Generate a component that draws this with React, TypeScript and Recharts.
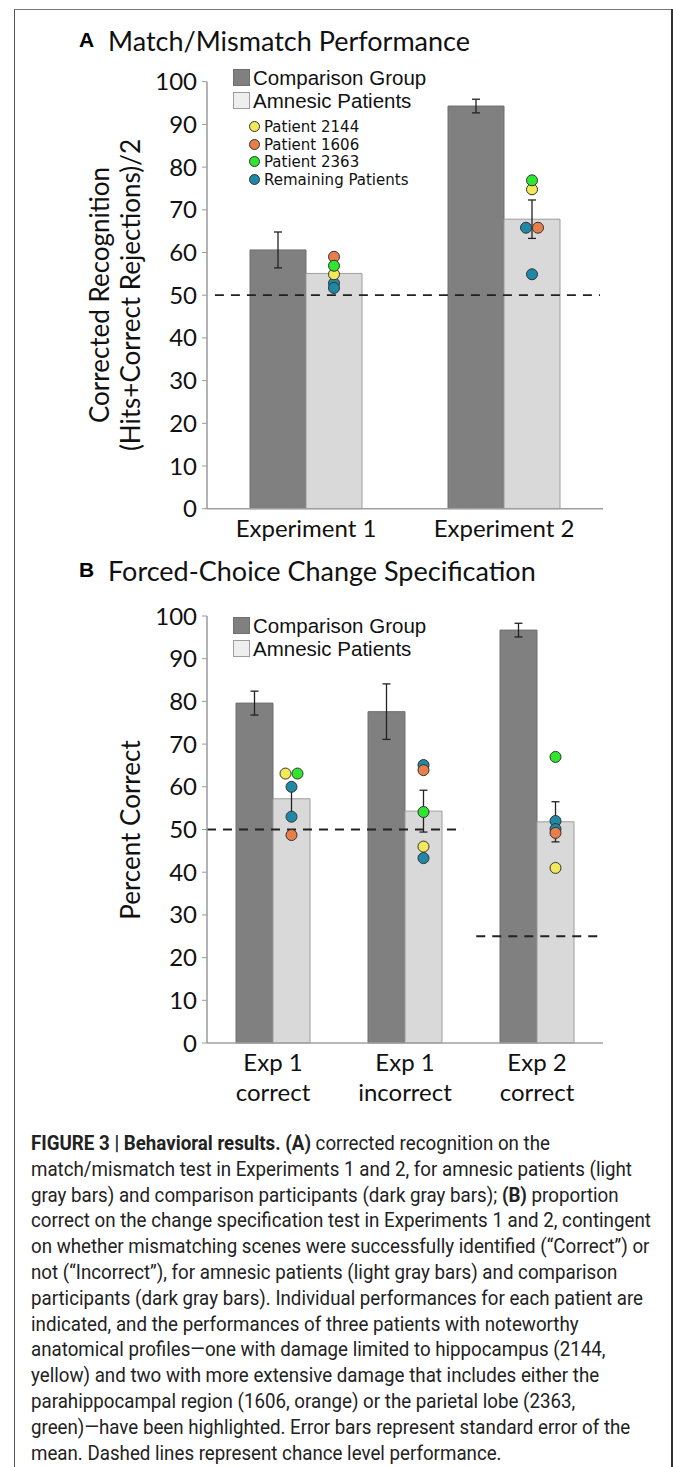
import React from 'react';
import { ComposedChart, Bar, XAxis, YAxis, ErrorBar, Scatter, ReferenceLine } from 'recharts';

// ---------- DATA ----------
const categoriesA = ['Experiment 1', 'Experiment 2'];
const comparisonA = [60.6, 94.3];
const comparisonErrA = [4.2, 1.6];
const amnesicA = [55.1, 67.8];
const amnesicErrA = [1.5, 4.5];
const remaining1A = [52.8, 65.8];
const remaining2A = [51.7, 54.9];
const patient2144A = [54.9, 74.8];
const patient1606A = [59.0, 65.8];
const patient2363A = [56.9, 76.9];
const chanceA = [50, 50];

const categoriesB = ['Exp 1\ncorrect', 'Exp 1\nincorrect', 'Exp 2\ncorrect'];
const comparisonB = [79.6, 77.6, 96.7];
const comparisonErrB = [2.8, 6.5, 1.6];
const amnesicB = [57.2, 54.3, 51.8];
const amnesicErrB = [3.5, 4.9, 4.7];
const remaining1B = [60.0, 65.1, 52.0];
const remaining2B = [53.0, 43.3, 50.1];
const patient2144B = [63.1, 46.0, 41.0];
const patient1606B = [48.7, 63.9, 49.2];
const patient2363B = [63.1, 54.1, 67.0];
const chanceB = [50, 50, 25];

const yTicks = [0, 10, 20, 30, 40, 50, 60, 70, 80, 90, 100];

// ---------- STYLE / LAYOUT ----------
const DARK = '#808080';
const LIGHT = '#d9d9d9';
const seriesStyle: Record<string, string> = {
  rem1: '#1f88a6',
  rem2: '#1f88a6',
  p2144: '#f1e85a',
  p1606: '#e87f4b',
  p2363: '#2fe62f',
};
const seriesOrder = ['rem1', 'rem2', 'p2144', 'p1606', 'p2363'];
const CHART_W = 673;
const PLOT_LEFT = 207;
const PLOT_RIGHT_MARGIN = 70;
const Y_AXIS_W = 60;
const PLOT_W = CHART_W - PLOT_LEFT - PLOT_RIGHT_MARGIN;

function buildData(cats: string[], comp: number[], compErr: number[], amn: number[], amnErr: number[],
  rem1: number[], rem2: number[], p2144: number[], p1606: number[], p2363: number[]) {
  return cats.map((c, i) => ({
    cat: c, idx: i,
    comp: comp[i], compErr: compErr[i], amn: amn[i], amnErr: amnErr[i],
    rem1: rem1[i], rem2: rem2[i], p2144: p2144[i], p1606: p1606[i], p2363: p2363[i],
  }));
}

const dataA = buildData(categoriesA, comparisonA, comparisonErrA, amnesicA, amnesicErrA,
  remaining1A, remaining2A, patient2144A, patient1606A, patient2363A);
const dataB = buildData(categoriesB, comparisonB, comparisonErrB, amnesicB, amnesicErrB,
  remaining1B, remaining2B, patient2144B, patient1606B, patient2363B);

// spread dots that have identical values side by side
function spreadOffsets(data: any[], spacing: number) {
  const res: Record<string, number[]> = {};
  seriesOrder.forEach((k) => (res[k] = data.map(() => 0)));
  data.forEach((row, i) => {
    const groups: Record<string, string[]> = {};
    seriesOrder.forEach((k) => {
      const key = String(row[k]);
      (groups[key] = groups[key] || []).push(k);
    });
    Object.values(groups).forEach((g) => {
      g.forEach((k, j) => {
        res[k][i] = (j - (g.length - 1) / 2) * spacing;
      });
    });
  });
  return res;
}

function makeDot(key: string, offsets: Record<string, number[]>, shift: number) {
  return (props: any) => {
    const { cx, cy, payload } = props;
    if (cx == null || cy == null) return <g />;
    const dx = shift + offsets[key][payload.idx];
    return <circle cx={cx + dx} cy={cy} r={5.5} fill={seriesStyle[key]} stroke="#333" strokeWidth={1} />;
  };
}

function chanceGroups(values: number[], cats: string[]) {
  const groups: { v: number; from: number; to: number }[] = [];
  values.forEach((v, i) => {
    const last = groups[groups.length - 1];
    if (last && last.v === v) last.to = i;
    else groups.push({ v, from: i, to: i });
  });
  return groups.map((g) => ({ v: g.v, c1: cats[g.from], c2: cats[g.to] }));
}

const FONT = "Lato, 'Open Sans', sans-serif";

const MultiTick = (props: any) => {
  const { x, y, payload } = props;
  const lines = String(payload.value).split('\n');
  return (
    <text x={x} y={y} textAnchor="middle" fontFamily={FONT} fontSize={24} fill="#111">
      {lines.map((l, i) => (
        <tspan key={i} x={x} dy={i === 0 ? 20 : 30}>{l}</tspan>
      ))}
    </text>
  );
};

function Panel({ data, cats, barSize, chance, ext, height, top, bottom, xHeight }: any) {
  const offsets = spreadOffsets(data, 12);
  const groups = chanceGroups(chance, cats);
  const step = PLOT_W / data.length;
  return (
    <ComposedChart width={CHART_W} height={height} data={data}
      margin={{ top, right: PLOT_RIGHT_MARGIN, bottom, left: PLOT_LEFT - Y_AXIS_W }} barGap={0} barSize={barSize}>
      <XAxis dataKey="cat" interval={0} tickLine={false} axisLine={{ stroke: '#a0a0a0', strokeWidth: 1.5 }}
        height={xHeight} tick={<MultiTick />} />
      <YAxis domain={[0, 100]} ticks={yTicks} interval={0} width={Y_AXIS_W} tickSize={5} tickMargin={5}
        axisLine={{ stroke: '#9a9a9a', strokeWidth: 1.5 }} tickLine={{ stroke: '#9a9a9a' }}
        tick={{ fontFamily: FONT, fontSize: 24, fill: '#111' }} />
      <Bar dataKey="comp" fill={DARK} stroke="#6f6f6f" strokeWidth={1} isAnimationActive={false}>
        <ErrorBar dataKey="compErr" width={4} stroke="#222" strokeWidth={1.3} direction="y" />
      </Bar>
      <Bar dataKey="amn" fill={LIGHT} stroke="#9c9c9c" strokeWidth={1} isAnimationActive={false}>
        <ErrorBar dataKey="amnErr" width={4} stroke="#222" strokeWidth={1.3} direction="y" />
      </Bar>
      {groups.map((g: any, i: number) => (
        <ReferenceLine key={i} segment={[{ x: g.c1, y: g.v }, { x: g.c2, y: g.v }]} ifOverflow="visible"
          shape={(p: any) => (
            <line x1={p.x1 - ext[i][0] * step} y1={p.y1} x2={p.x2 + ext[i][1] * step} y2={p.y2}
              stroke="#222" strokeWidth={1.8} strokeDasharray="9 7" />
          )} />
      ))}
      {seriesOrder.map((k) => (
        <Scatter key={k} dataKey={k} isAnimationActive={false} shape={makeDot(k, offsets, barSize / 2)} />
      ))}
    </ComposedChart>
  );
}

const legendSq = (fill: string, stroke: string) => (
  <span style={{ display: 'inline-block', width: 15, height: 15, background: fill, border: `1px solid ${stroke}`, marginRight: 3, verticalAlign: -1 }} />
);

const BarLegend = ({ top }: { top: number }) => (
  <div style={{ position: 'absolute', left: 233, top, fontFamily: "'Liberation Sans', Arial, sans-serif", fontSize: 20.5, lineHeight: '23px', color: '#111' }}>
    <div>{legendSq(DARK, '#6f6f6f')}Comparison Group</div>
    <div>{legendSq('#eeeeee', '#9c9c9c')}Amnesic Patients</div>
  </div>
);

const dotLegend = [
  { label: 'Patient 2144', key: 'p2144' },
  { label: 'Patient 1606', key: 'p1606' },
  { label: 'Patient 2363', key: 'p2363' },
  { label: 'Remaining Patients', key: 'rem1' },
];

const captionLines: { b?: string; t: string; b2?: string; t2?: string }[] = [
  { b: 'FIGURE 3 | Behavioral results. (A)', t: ' corrected recognition on the' },
  { t: 'match/mismatch test in Experiments 1 and 2, for amnesic patients (light' },
  { t: 'gray bars) and comparison participants (dark gray bars); ', b2: '(B)', t2: ' proportion' },
  { t: 'correct on the change specification test in Experiments 1 and 2, contingent' },
  { t: 'on whether mismatching scenes were successfully identified (\u201cCorrect\u201d) or' },
  { t: 'not (\u201cIncorrect\u201d), for amnesic patients (light gray bars) and comparison' },
  { t: 'participants (dark gray bars). Individual performances for each patient are' },
  { t: 'indicated, and the performances of three patients with noteworthy' },
  { t: 'anatomical profiles\u2014one with damage limited to hippocampus (2144,' },
  { t: 'yellow) and two with more extensive damage that includes either the' },
  { t: 'parahippocampal region (1606, orange) or the parietal lobe (2363,' },
  { t: 'green)\u2014have been highlighted. Error bars represent standard error of the' },
  { t: 'mean. Dashed lines represent chance level performance.' },
];

export default function App() {
  return (
    <div style={{ position: 'absolute', left: 0, top: 0, width: 673, height: 1467, background: '#fff', overflow: 'hidden' }}>
      <div style={{ position: 'absolute', left: 14, top: 9, width: 680, height: 1500, borderLeft: '1.5px solid #555', borderTop: '1.5px solid #777', boxSizing: 'border-box' }} />
      <div style={{ position: 'absolute', right: 0, top: 9, width: 2, height: 1500, background: '#333' }} />

      {/* Panel A */}
      <div style={{ position: 'absolute', left: 0, top: 0 }}>
        <Panel data={dataA} cats={categoriesA} barSize={56} chance={chanceA} ext={[[0.46, 0.485]]} height={560}
          top={81.7} bottom={11.3} xHeight={40} />
      </div>
      <div style={{ position: 'absolute', left: 79, top: 28, fontFamily: "'Liberation Sans', Arial, sans-serif", fontWeight: 700, fontSize: 21 }}>A</div>
      <div style={{ position: 'absolute', left: 108, top: 24, fontFamily: FONT, fontSize: 27, color: '#111' }}>Match/Mismatch Performance</div>
      <div style={{ position: 'absolute', left: 115, top: 295, width: 0, height: 0 }}>
        <div style={{ position: 'absolute', transform: 'translate(-50%,-50%) rotate(-90deg)', whiteSpace: 'nowrap', textAlign: 'center', fontFamily: FONT, fontSize: 26, lineHeight: '31px', color: '#111' }}>
          <div>Corrected Recognition</div>
          <div>(Hits+Correct Rejections)/2</div>
        </div>
      </div>
      <BarLegend top={66} />
      <div style={{ position: 'absolute', left: 249, top: 119, fontFamily: "'DejaVu Sans', sans-serif", fontSize: 15, lineHeight: '17.5px', color: '#111' }}>
        {dotLegend.map((d) => (
          <div key={d.key} style={{ whiteSpace: 'nowrap', height: 17.5 }}>
            <span style={{ display: 'inline-block', width: 9, height: 9, borderRadius: '50%', background: seriesStyle[d.key], border: '1px solid #333', marginRight: 4, verticalAlign: 0 }} />
            {d.label}
          </div>
        ))}
      </div>

      {/* Panel B */}
      <div style={{ position: 'absolute', left: 0, top: 560 }}>
        <Panel data={dataB} cats={categoriesB} barSize={37} chance={chanceB} ext={[[0.5, 0.44], [0.46, 0.48]]} height={560}
          top={56} bottom={17} xHeight={60} />
      </div>
      <div style={{ position: 'absolute', left: 79, top: 558, fontFamily: "'Liberation Sans', Arial, sans-serif", fontWeight: 700, fontSize: 21 }}>B</div>
      <div style={{ position: 'absolute', left: 108, top: 554, fontFamily: FONT, fontSize: 27, color: '#111' }}>Forced-Choice Change Specification</div>
      <div style={{ position: 'absolute', left: 130, top: 830, width: 0, height: 0 }}>
        <div style={{ position: 'absolute', transform: 'translate(-50%,-50%) rotate(-90deg)', whiteSpace: 'nowrap', fontFamily: FONT, fontSize: 26, color: '#111' }}>
          Percent Correct
        </div>
      </div>
      <BarLegend top={614} />

      {/* Caption */}
      <div style={{ position: 'absolute', left: 31, top: 1131, fontFamily: "'Liberation Sans Narrow', 'Roboto', sans-serif", fontSize: 19.5, lineHeight: '25.8px', color: '#222', whiteSpace: 'nowrap', transform: 'scaleX(0.96)', transformOrigin: 'left top' }}>
        {captionLines.map((l, i) => (
          <div key={i}>
            {l.b && <b>{l.b}</b>}{l.t}{l.b2 && <b>{l.b2}</b>}{l.t2}
          </div>
        ))}
      </div>
    </div>
  );
}
